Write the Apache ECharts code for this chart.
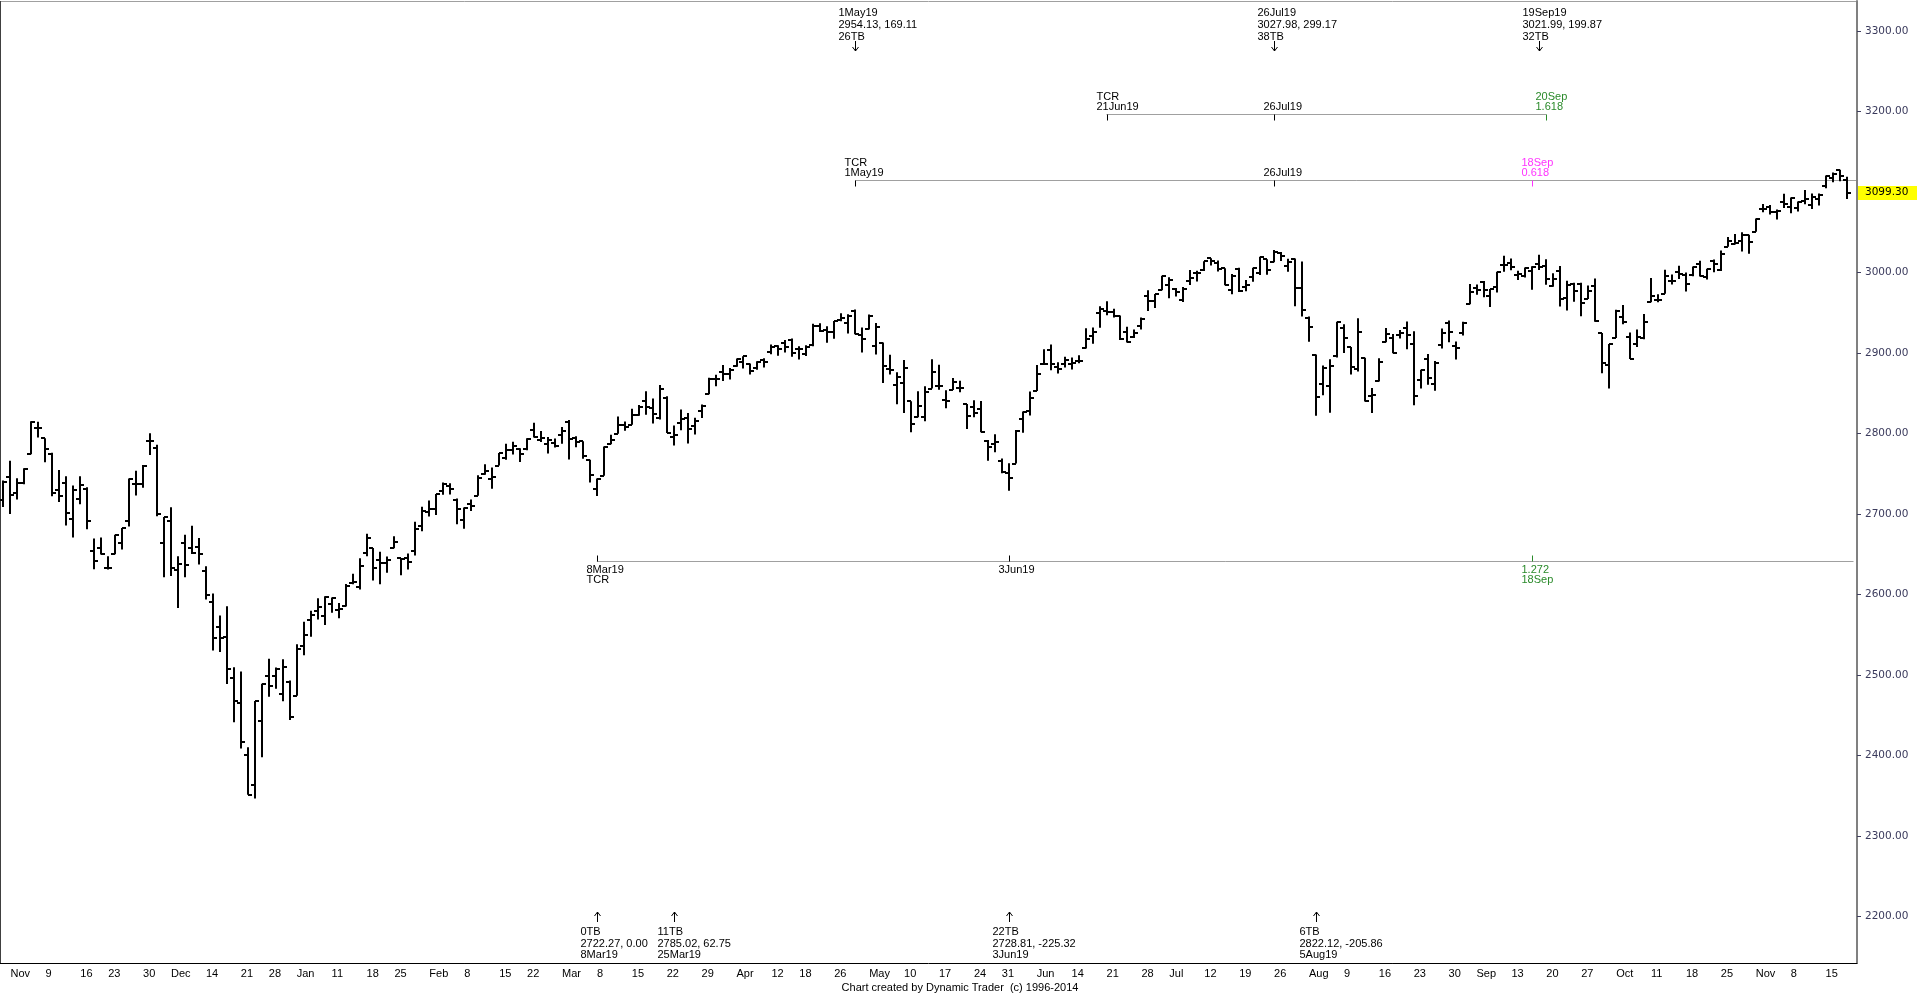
<!DOCTYPE html>
<html>
<head>
<meta charset="utf-8">
<script src="https://cdn.jsdelivr.net/npm/echarts@6/dist/echarts.min.js"></script>
<style>
  html, body { margin: 0; padding: 0; background: #fff; }
  #chart { width: 1917px; height: 995px; }
</style>
</head>
<body>
<div id="chart"></div>
<script>
// daily bars, one array per month: [day, open, high, low, close]
var nov2018 = [
  [1, 2717.58, 2741.67, 2708.85, 2740.37], [2, 2745.45, 2766.28, 2699.96, 2723.06],
  [5, 2726.37, 2744.27, 2717.94, 2738.31], [6, 2738.40, 2756.82, 2737.08, 2755.45],
  [7, 2774.13, 2815.15, 2774.13, 2813.89], [8, 2806.38, 2814.75, 2794.99, 2806.83],
  [9, 2794.10, 2794.10, 2764.24, 2781.01], [12, 2773.93, 2775.99, 2722.00, 2726.22],
  [13, 2730.05, 2754.60, 2714.98, 2722.18], [14, 2737.90, 2746.80, 2685.75, 2701.58],
  [15, 2693.52, 2735.38, 2670.75, 2730.20], [16, 2718.54, 2746.75, 2712.16, 2736.27],
  [19, 2730.74, 2733.16, 2681.09, 2690.73], [20, 2654.60, 2669.44, 2631.52, 2641.89],
  [21, 2657.74, 2670.73, 2649.82, 2649.93], [23, 2633.36, 2647.55, 2631.09, 2632.56],
  [26, 2649.97, 2674.35, 2649.97, 2673.45], [27, 2663.75, 2682.53, 2655.89, 2682.17],
  [28, 2691.45, 2744.00, 2684.38, 2743.79], [29, 2736.97, 2753.75, 2722.94, 2737.80],
  [30, 2737.76, 2760.88, 2732.76, 2760.17]
];
var dec2018 = [
  [3, 2790.50, 2800.18, 2773.38, 2790.37], [4, 2782.43, 2785.93, 2697.18, 2700.06],
  [6, 2663.51, 2696.15, 2621.53, 2695.95], [7, 2691.26, 2708.54, 2623.14, 2633.08],
  [10, 2630.86, 2647.51, 2583.23, 2637.72], [11, 2664.44, 2674.35, 2621.30, 2636.78],
  [12, 2658.23, 2685.44, 2650.26, 2651.07], [13, 2658.70, 2670.19, 2637.27, 2650.54],
  [14, 2629.68, 2635.07, 2593.84, 2599.95], [17, 2590.75, 2601.13, 2530.54, 2545.94],
  [18, 2559.90, 2573.99, 2528.71, 2546.16], [19, 2547.05, 2585.29, 2488.96, 2506.96],
  [20, 2496.77, 2509.63, 2441.18, 2467.42], [21, 2465.38, 2504.41, 2408.55, 2416.62],
  [24, 2400.56, 2410.34, 2351.10, 2351.10], [26, 2363.12, 2467.76, 2346.58, 2467.70],
  [27, 2442.50, 2489.10, 2397.94, 2488.83], [28, 2498.77, 2520.27, 2472.89, 2485.74],
  [31, 2498.94, 2509.24, 2482.82, 2506.85]
];
var jan2019 = [
  [2, 2476.96, 2519.49, 2467.47, 2510.03], [3, 2491.92, 2493.14, 2443.96, 2447.89],
  [4, 2474.33, 2538.07, 2474.33, 2531.94], [7, 2535.61, 2566.16, 2524.56, 2549.69],
  [8, 2568.11, 2579.82, 2547.56, 2574.41], [9, 2580.00, 2595.32, 2568.89, 2584.96],
  [10, 2573.51, 2597.82, 2562.02, 2596.64], [11, 2588.11, 2596.27, 2577.40, 2596.26],
  [14, 2580.31, 2589.32, 2570.41, 2582.61], [15, 2585.10, 2613.08, 2585.10, 2610.30],
  [16, 2614.75, 2625.76, 2612.68, 2616.10], [17, 2609.28, 2645.06, 2606.36, 2635.96],
  [18, 2651.27, 2675.47, 2647.58, 2670.71], [22, 2657.88, 2657.88, 2617.27, 2632.90],
  [23, 2643.48, 2653.19, 2612.86, 2638.70], [24, 2638.84, 2647.20, 2627.01, 2642.33],
  [25, 2657.44, 2672.38, 2657.33, 2664.76], [28, 2644.97, 2644.97, 2624.06, 2643.85],
  [29, 2644.89, 2650.93, 2631.05, 2640.00], [30, 2653.62, 2690.44, 2648.34, 2681.05],
  [31, 2685.49, 2708.95, 2678.65, 2704.10]
];
var feb2019 = [
  [1, 2702.32, 2716.66, 2696.88, 2706.53], [4, 2706.49, 2724.99, 2698.75, 2724.87],
  [5, 2728.34, 2738.98, 2724.03, 2737.70], [6, 2735.05, 2738.08, 2724.15, 2731.61],
  [7, 2717.53, 2719.32, 2687.26, 2706.05], [8, 2692.36, 2708.07, 2681.83, 2707.88],
  [11, 2712.40, 2718.05, 2703.79, 2709.80], [12, 2722.61, 2748.19, 2722.61, 2744.73],
  [13, 2750.30, 2761.85, 2748.63, 2753.03], [14, 2743.50, 2757.90, 2731.23, 2745.73],
  [15, 2760.24, 2775.66, 2760.24, 2775.60], [19, 2769.28, 2787.33, 2767.29, 2779.76],
  [20, 2779.05, 2789.88, 2774.06, 2784.70], [21, 2780.67, 2781.58, 2764.55, 2774.88],
  [22, 2780.24, 2794.20, 2779.11, 2792.67], [25, 2804.35, 2813.49, 2794.99, 2796.11],
  [26, 2792.36, 2803.12, 2789.47, 2793.90], [27, 2787.50, 2795.76, 2775.13, 2792.38],
  [28, 2788.11, 2793.73, 2782.51, 2784.49]
];
var mar2019 = [
  [1, 2798.22, 2808.02, 2787.38, 2803.69], [4, 2814.37, 2816.88, 2767.66, 2792.81],
  [5, 2794.41, 2796.44, 2782.97, 2789.65], [6, 2790.27, 2790.27, 2768.69, 2771.45],
  [7, 2766.53, 2767.25, 2739.09, 2748.93], [8, 2730.79, 2744.13, 2722.27, 2743.07],
  [11, 2747.61, 2784.00, 2747.61, 2783.30], [12, 2787.34, 2798.32, 2786.73, 2791.52],
  [13, 2799.78, 2821.24, 2799.78, 2810.92], [14, 2810.38, 2815.00, 2803.46, 2808.48],
  [15, 2810.79, 2830.73, 2810.79, 2822.48], [18, 2822.61, 2835.41, 2821.99, 2832.94],
  [19, 2840.76, 2852.42, 2823.27, 2832.57], [20, 2831.34, 2843.54, 2812.43, 2824.23],
  [21, 2819.72, 2860.31, 2817.38, 2854.88], [22, 2844.52, 2846.16, 2800.47, 2800.71],
  [25, 2796.01, 2809.79, 2785.02, 2798.36], [26, 2812.66, 2829.87, 2803.99, 2818.46],
  [27, 2819.72, 2825.56, 2787.72, 2805.37], [28, 2809.40, 2819.71, 2798.77, 2815.44],
  [29, 2828.27, 2836.03, 2819.23, 2834.40]
];
var apr2019 = [
  [1, 2848.63, 2869.40, 2848.63, 2867.19], [2, 2868.24, 2872.90, 2858.75, 2867.24],
  [3, 2876.09, 2885.25, 2865.17, 2873.40], [4, 2873.99, 2881.28, 2867.14, 2879.39],
  [5, 2884.16, 2893.24, 2882.99, 2892.74], [8, 2888.46, 2895.95, 2880.78, 2895.77],
  [9, 2886.58, 2886.88, 2873.33, 2878.20], [10, 2881.37, 2889.71, 2879.13, 2888.21],
  [11, 2891.92, 2893.42, 2881.99, 2888.32], [12, 2900.86, 2910.54, 2898.37, 2907.41],
  [15, 2908.32, 2909.60, 2896.48, 2905.58], [16, 2912.26, 2916.06, 2900.71, 2907.06],
  [17, 2916.04, 2918.00, 2895.45, 2900.45], [18, 2904.81, 2908.40, 2891.90, 2905.03],
  [22, 2898.78, 2909.51, 2896.35, 2907.97], [23, 2909.99, 2936.31, 2908.53, 2933.68],
  [24, 2934.00, 2936.83, 2926.05, 2927.25], [25, 2928.99, 2933.10, 2912.84, 2926.17],
  [26, 2925.81, 2939.88, 2917.56, 2939.88], [29, 2940.58, 2949.52, 2939.35, 2943.03],
  [30, 2937.14, 2948.22, 2924.11, 2945.83]
];
var may2019 = [
  [1, 2952.33, 2954.13, 2923.36, 2923.73], [2, 2922.16, 2931.68, 2900.50, 2917.52],
  [3, 2929.21, 2947.85, 2929.21, 2945.64], [6, 2908.89, 2937.32, 2898.21, 2932.47],
  [7, 2913.03, 2913.03, 2862.60, 2884.05], [8, 2879.61, 2897.96, 2873.28, 2879.42],
  [9, 2859.84, 2875.97, 2836.40, 2870.72], [10, 2863.10, 2891.31, 2825.39, 2881.40],
  [13, 2840.19, 2840.19, 2801.43, 2811.87], [14, 2820.12, 2852.54, 2820.12, 2834.41],
  [15, 2820.38, 2858.68, 2815.08, 2850.96], [16, 2855.80, 2892.15, 2855.80, 2876.32],
  [17, 2858.60, 2885.48, 2854.23, 2859.53], [20, 2841.94, 2853.86, 2831.29, 2840.23],
  [21, 2854.02, 2868.88, 2854.02, 2864.36], [22, 2856.06, 2865.47, 2851.11, 2856.27],
  [23, 2836.70, 2836.70, 2805.49, 2822.24], [24, 2832.41, 2841.36, 2820.19, 2826.06],
  [28, 2830.03, 2840.51, 2801.58, 2802.39], [29, 2790.25, 2792.03, 2766.06, 2783.02],
  [30, 2786.94, 2799.00, 2776.74, 2788.86], [31, 2766.15, 2768.98, 2750.52, 2752.06]
];
var jun2019 = [
  [3, 2751.53, 2763.07, 2728.81, 2744.45], [4, 2762.64, 2804.49, 2762.64, 2803.27],
  [5, 2818.09, 2827.28, 2800.92, 2826.15], [6, 2828.51, 2852.10, 2822.45, 2843.49],
  [7, 2852.87, 2884.97, 2852.87, 2873.34], [10, 2885.83, 2904.77, 2885.51, 2886.73],
  [11, 2903.27, 2910.61, 2878.53, 2885.72], [12, 2882.73, 2888.57, 2874.68, 2879.84],
  [13, 2886.24, 2895.24, 2881.99, 2891.64], [14, 2886.82, 2894.45, 2879.62, 2886.98],
  [17, 2889.75, 2897.27, 2887.30, 2889.67], [18, 2906.71, 2930.79, 2905.44, 2917.75],
  [19, 2920.55, 2931.74, 2911.43, 2926.46], [20, 2949.60, 2958.06, 2931.50, 2954.18],
  [21, 2952.71, 2964.15, 2946.87, 2950.46], [24, 2951.42, 2954.92, 2944.05, 2945.35],
  [25, 2945.78, 2946.52, 2916.01, 2917.38], [26, 2926.07, 2932.59, 2912.99, 2913.78],
  [27, 2919.66, 2929.30, 2918.57, 2924.92], [28, 2932.94, 2943.98, 2929.05, 2941.76]
];
var jul2019 = [
  [1, 2971.41, 2977.93, 2952.22, 2964.33], [2, 2964.66, 2973.21, 2955.92, 2973.01],
  [3, 2978.08, 2995.84, 2977.96, 2995.82], [5, 2984.25, 2994.03, 2967.97, 2990.41],
  [8, 2979.77, 2980.76, 2970.09, 2975.95], [9, 2965.52, 2981.90, 2963.44, 2979.63],
  [10, 2989.30, 3002.98, 2984.62, 2993.07], [11, 2999.62, 3002.33, 2988.80, 2999.91],
  [12, 3003.36, 3013.92, 3001.87, 3013.77], [15, 3017.80, 3017.80, 3008.77, 3014.30],
  [16, 3012.13, 3015.02, 3001.15, 3004.04], [17, 3005.10, 3005.26, 2984.25, 2984.42],
  [18, 2978.87, 2998.28, 2973.09, 2995.11], [19, 3004.26, 3006.02, 2975.86, 2976.61],
  [22, 2981.93, 2990.71, 2976.65, 2985.03], [23, 2994.74, 3005.90, 2988.56, 3005.47],
  [24, 2998.77, 3019.59, 2996.82, 3019.56], [25, 3016.26, 3016.31, 2997.24, 3003.67],
  [26, 3013.25, 3027.98, 3012.59, 3025.86], [29, 3024.47, 3025.61, 3014.30, 3020.97],
  [30, 3007.66, 3017.19, 3000.94, 3013.18], [31, 3016.22, 3017.40, 2958.08, 2980.38]
];
var aug2019 = [
  [1, 2980.32, 3013.59, 2945.23, 2953.56], [2, 2943.90, 2945.50, 2914.11, 2932.05],
  [5, 2898.07, 2898.07, 2822.12, 2844.74], [6, 2861.18, 2884.40, 2847.42, 2881.77],
  [7, 2858.65, 2892.17, 2825.71, 2883.98], [8, 2896.21, 2938.72, 2894.47, 2938.09],
  [9, 2930.51, 2935.75, 2900.15, 2918.65], [12, 2907.07, 2907.58, 2873.14, 2882.70],
  [13, 2880.72, 2943.31, 2877.05, 2926.32], [14, 2894.15, 2894.15, 2839.64, 2840.60],
  [15, 2846.20, 2856.67, 2825.51, 2847.60], [16, 2864.74, 2893.63, 2864.74, 2888.68],
  [19, 2913.48, 2931.00, 2913.48, 2923.65], [20, 2919.01, 2923.63, 2899.60, 2900.51],
  [21, 2922.04, 2928.73, 2917.91, 2924.43], [22, 2930.94, 2939.08, 2904.51, 2922.95],
  [23, 2911.07, 2927.01, 2834.97, 2847.11], [26, 2866.70, 2879.27, 2856.00, 2878.38],
  [27, 2893.14, 2898.79, 2860.59, 2869.16], [28, 2861.28, 2890.03, 2853.05, 2887.94],
  [29, 2910.37, 2930.50, 2905.67, 2924.58], [30, 2937.09, 2940.43, 2913.32, 2926.46]
];
var sep2019 = [
  [3, 2909.01, 2914.39, 2891.85, 2906.27], [4, 2924.67, 2938.84, 2921.86, 2937.78],
  [5, 2960.60, 2985.86, 2960.60, 2976.00], [6, 2980.33, 2985.03, 2972.51, 2978.71],
  [9, 2988.43, 2989.43, 2969.39, 2978.43], [10, 2971.01, 2979.39, 2957.01, 2979.39],
  [11, 2981.41, 3000.93, 2975.31, 3000.93], [12, 3009.08, 3020.74, 3000.92, 3009.57],
  [13, 3012.21, 3017.33, 3002.90, 3007.39], [16, 2996.41, 3002.19, 2990.67, 2997.96],
  [17, 2995.67, 3006.21, 2993.73, 3005.70], [18, 3001.50, 3007.83, 2978.57, 3006.73],
  [19, 3010.36, 3021.99, 3003.16, 3006.79], [20, 3008.42, 3016.37, 2984.68, 2992.07],
  [23, 2983.50, 2999.15, 2982.23, 2991.78], [24, 3002.43, 3007.98, 2957.73, 2966.60],
  [25, 2968.35, 2989.82, 2952.86, 2984.87], [26, 2985.73, 2987.28, 2963.71, 2977.62],
  [27, 2985.47, 2987.31, 2945.53, 2961.79], [30, 2967.07, 2983.85, 2967.07, 2976.74]
];
var oct2019 = [
  [1, 2983.69, 2992.53, 2938.70, 2940.25], [2, 2924.78, 2924.78, 2874.93, 2887.61],
  [3, 2885.38, 2911.13, 2855.94, 2910.63], [4, 2918.56, 2953.74, 2918.56, 2952.01],
  [7, 2944.23, 2959.75, 2935.68, 2938.79], [8, 2920.40, 2925.47, 2892.66, 2893.06],
  [9, 2911.10, 2929.32, 2907.41, 2919.40], [10, 2918.55, 2948.46, 2917.12, 2938.13],
  [11, 2963.07, 2993.28, 2963.07, 2970.27], [14, 2965.81, 2972.84, 2962.94, 2966.15],
  [15, 2973.61, 3003.28, 2973.61, 2995.68], [16, 2989.68, 2997.54, 2985.20, 2989.69],
  [17, 3000.77, 3008.29, 2991.79, 2997.95], [18, 2996.84, 3000.00, 2976.31, 2986.20],
  [21, 2996.48, 3007.33, 2995.35, 3006.72], [22, 3010.73, 3014.57, 2995.04, 2995.99],
  [23, 2994.01, 3004.78, 2991.21, 3004.52], [24, 3014.78, 3016.07, 3000.42, 3010.29],
  [25, 3003.32, 3027.39, 3001.94, 3022.55], [28, 3032.12, 3044.08, 3032.12, 3039.42],
  [29, 3035.39, 3047.87, 3034.81, 3036.89], [30, 3039.74, 3050.10, 3025.96, 3046.77],
  [31, 3046.90, 3046.90, 3023.19, 3037.56]
];
var nov2019 = [
  [1, 3050.72, 3066.95, 3050.72, 3066.91], [4, 3078.96, 3085.20, 3074.87, 3078.27],
  [5, 3080.80, 3083.95, 3072.15, 3074.62], [6, 3075.10, 3078.34, 3065.89, 3076.78],
  [7, 3087.02, 3097.77, 3080.23, 3085.18], [8, 3081.25, 3093.09, 3073.58, 3093.08],
  [11, 3080.33, 3088.33, 3075.82, 3087.01], [12, 3089.28, 3102.61, 3084.73, 3091.84],
  [13, 3084.18, 3098.06, 3078.80, 3094.04], [14, 3090.75, 3098.20, 3083.26, 3096.63],
  [15, 3107.92, 3120.46, 3104.60, 3120.46], [18, 3117.91, 3124.17, 3112.06, 3122.03],
  [19, 3127.45, 3127.64, 3113.47, 3120.18], [20, 3114.66, 3118.97, 3091.41, 3099.30]
];

var months = [
  ['2018-11', nov2018], ['2018-12', dec2018], ['2019-01', jan2019], ['2019-02', feb2019],
  ['2019-03', mar2019], ['2019-04', apr2019], ['2019-05', may2019], ['2019-06', jun2019],
  ['2019-07', jul2019], ['2019-08', aug2019], ['2019-09', sep2019], ['2019-10', oct2019],
  ['2019-11', nov2019]
];
var monthNames = ['Jan', 'Feb', 'Mar', 'Apr', 'May', 'Jun', 'Jul', 'Aug', 'Sep', 'Oct', 'Nov', 'Dec'];
// 3100 sits under the last-price tag, so it gets no label of its own
var yTicks = [2200, 2300, 2400, 2500, 2600, 2700, 2800, 2900, 3000, 3200, 3300];
var lastPrice = 3099.30;

// annotations: [date, line1, line2, line3]
var topNotes = [
  ['2019-05-01', '1May19', '2954.13, 169.11', '26TB'],
  ['2019-07-26', '26Jul19', '3027.98, 299.17', '38TB'],
  ['2019-09-19', '19Sep19', '3021.99, 199.87', '32TB']
];
var bottomNotes = [
  ['2019-03-08', '0TB', '2722.27, 0.00', '8Mar19'],
  ['2019-03-25', '11TB', '2785.02, 62.75', '25Mar19'],
  ['2019-06-03', '22TB', '2728.81, -225.32', '3Jun19'],
  ['2019-08-05', '6TB', '2822.12, -205.86', '5Aug19']
];
// time cycle ratio lines: level, from, to (null = right edge), text side, marks [date, text1, text2, colour]
var tcrLines = [
  { level: 3197.3, from: '2019-06-21', to: '2019-09-20', side: 'above', marks: [
    ['2019-06-21', 'TCR', '21Jun19', '#000'], ['2019-07-26', '', '26Jul19', '#000'], ['2019-09-20', '20Sep', '1.618', '#2a8a2a']] },
  { level: 3115.3, from: '2019-05-01', to: null, side: 'above', marks: [
    ['2019-05-01', 'TCR', '1May19', '#000'], ['2019-07-26', '', '26Jul19', '#000'], ['2019-09-18', '18Sep', '0.618', '#ff33ff']] },
  { level: 2641.6, from: '2019-03-08', to: 'end', side: 'below', marks: [
    ['2019-03-08', '8Mar19', 'TCR', '#000'], ['2019-06-03', '3Jun19', '', '#000'], ['2019-09-18', '1.272', '18Sep', '#2a8a2a']] }
];

var dates = [], bars = [];
months.forEach(function (m) {
  m[1].forEach(function (r) {
    dates.push(m[0] + '-' + (r[0] < 10 ? '0' : '') + r[0]);
    bars.push([dates.length - 1, r[1], r[2], r[3], r[4]]);
  });
});
var categories = dates.concat(['']);

// a tick on the last trading day of each week; month name on the first one of a month
function weekKey(s) {
  var d = new Date(s + 'T00:00:00Z');
  return Math.floor(d.getTime() / 86400000) - (d.getUTCDay() + 6) % 7;
}
var tickLabel = {};
var prevMonth = null;
for (var i = 0; i < dates.length - 1; i++) {
  if (weekKey(dates[i]) !== weekKey(dates[i + 1])) {
    var mo = dates[i].slice(0, 7);
    tickLabel[i] = mo !== prevMonth ? monthNames[+dates[i].slice(5, 7) - 1] : String(+dates[i].slice(8));
    prevMonth = mo;
  }
}
function isTick(index) { return tickLabel.hasOwnProperty(index); }

var font = '11px "Liberation Sans"';

function renderBar(params, api) {
  var idx = api.value(0);
  var x = Math.round(api.coord([idx, api.value(2)])[0]);
  var yh = api.coord([idx, api.value(2)])[1];
  var yl = api.coord([idx, api.value(3)])[1];
  var yo = Math.round(api.coord([idx, api.value(1)])[1]);
  var yc = Math.round(api.coord([idx, api.value(4)])[1]);
  var st = { stroke: '#000', lineWidth: 2 };
  return {
    type: 'group',
    children: [
      { type: 'line', shape: { x1: x, y1: yh, x2: x, y2: yl }, style: st },
      { type: 'line', shape: { x1: x - 4, y1: yo, x2: x, y2: yo }, style: st },
      { type: 'line', shape: { x1: x, y1: yc, x2: x + 4, y2: yc }, style: st }
    ]
  };
}

var chart = echarts.init(document.getElementById('chart'));
chart.setOption({
  animation: false,
  backgroundColor: '#fff',
  grid: { left: -4, right: 60, top: 1, bottom: 32 },
  xAxis: {
    type: 'category',
    data: categories,
    boundaryGap: true,
    axisLine: { lineStyle: { color: '#000', width: 1 } },
    axisTick: { interval: isTick, length: 4, lineStyle: { color: '#000' } },
    axisLabel: {
      interval: isTick,
      formatter: function (v, index) { return tickLabel[index] || ''; },
      align: 'left', margin: 5, color: '#000',
      fontFamily: 'Liberation Sans', fontSize: 11
    },
    splitLine: { show: false }
  },
  yAxis: {
    type: 'value',
    position: 'right',
    min: 2142.24,
    max: 3337.27,
    axisLine: { show: true, lineStyle: { color: '#808080', width: 2 } },
    axisTick: { show: true, length: 4, customValues: yTicks, lineStyle: { color: '#404060' } },
    axisLabel: {
      customValues: yTicks,
      formatter: function (v) { return v.toFixed(2); },
      margin: 8, color: '#3a3a5c', fontFamily: 'DejaVu Sans', fontSize: 10.5
    },
    splitLine: { show: false }
  },
  series: [{
    type: 'custom',
    name: 'S&P 500',
    renderItem: renderBar,
    encode: { x: 0, y: [1, 2, 3, 4] },
    data: bars,
    clip: true
  }]
});

function xOf(date) { return chart.convertToPixel({ xAxisIndex: 0 }, dates.indexOf(date)); }
function yOf(price) { return chart.convertToPixel({ yAxisIndex: 0 }, price); }
function txt(x, y, s, color, align) {
  return { type: 'text', x: x, y: y, silent: true,
    style: { text: s, fill: color || '#000', font: font, textAlign: align || 'left', textVerticalAlign: 'middle' } };
}
function seg(x1, y1, x2, y2, color) {
  return { type: 'line', silent: true, shape: { x1: x1, y1: y1, x2: x2, y2: y2 },
    style: { stroke: color || '#000', lineWidth: 1 } };
}

var g = [];
var plotRight = chart.convertToPixel({ xAxisIndex: 0 }, categories.length - 1) + 3.5;
var plotBottom = 963;

// frame
g.push(seg(0, 1.5, plotRight, 1.5, '#a0a0a0'));
g.push(seg(0.5, 1, 0.5, plotBottom, '#404040'));

topNotes.forEach(function (n) {
  var x = Math.round(xOf(n[0])) + 0.5;
  g.push(txt(x - 17, 12.5, n[1]), txt(x - 17, 24.5, n[2]), txt(x - 17, 36.5, n[3]));
  g.push(seg(x, 41, x, 51), { type: 'polyline', silent: true,
    shape: { points: [[x - 3, 47], [x, 51], [x + 3, 47]] }, style: { stroke: '#000', lineWidth: 1, fill: null } });
});
bottomNotes.forEach(function (n) {
  var x = Math.round(xOf(n[0])) + 0.5;
  g.push(seg(x, 912, x, 922), { type: 'polyline', silent: true,
    shape: { points: [[x - 3, 916], [x, 912], [x + 3, 916]] }, style: { stroke: '#000', lineWidth: 1, fill: null } });
  g.push(txt(x - 17, 931.5, n[1]), txt(x - 17, 943.5, n[2]), txt(x - 17, 955, n[3]));
});

tcrLines.forEach(function (t) {
  var y = Math.round(yOf(t.level)) + 0.5;
  var x1 = xOf(t.from);
  var x2 = t.to === null ? plotRight : (t.to === 'end' ? chart.convertToPixel({ xAxisIndex: 0 }, categories.length - 1) : xOf(t.to));
  g.push(seg(x1, y, x2, y, '#a0a0a0'));
  t.marks.forEach(function (m) {
    var x = Math.round(xOf(m[0])) + 0.5;
    if (t.side === 'above') {
      g.push(seg(x, y, x, y + 6, m[3]));
      if (m[1]) g.push(txt(x - 11, y - 17.5, m[1], m[3]));
      if (m[2]) g.push(txt(x - 11, y - 7.5, m[2], m[3]));
    } else {
      g.push(seg(x, y - 6, x, y, m[3]));
      if (m[1]) g.push(txt(x - 11, y + 8.5, m[1], m[3]));
      if (m[2]) g.push(txt(x - 11, y + 18.5, m[2], m[3]));
    }
  });
});

// last price tag on the axis
var yp = yOf(lastPrice);
g.push({ type: 'rect', silent: true, z: 100, shape: { x: plotRight + 1, y: Math.round(yp) - 7, width: 1917 - plotRight, height: 14 },
  style: { fill: '#ffff00' } });
g.push({ type: 'text', silent: true, z: 101, x: plotRight + 8, y: yp,
  style: { text: lastPrice.toFixed(2), fill: '#000', font: '10.5px "DejaVu Sans"', textVerticalAlign: 'middle' } });

// footer
g.push(txt(960, 988, 'Chart created by Dynamic Trader  (c) 1996-2014', '#000', 'center'));

chart.setOption({ graphic: { elements: g } });
</script>
</body>
</html>
